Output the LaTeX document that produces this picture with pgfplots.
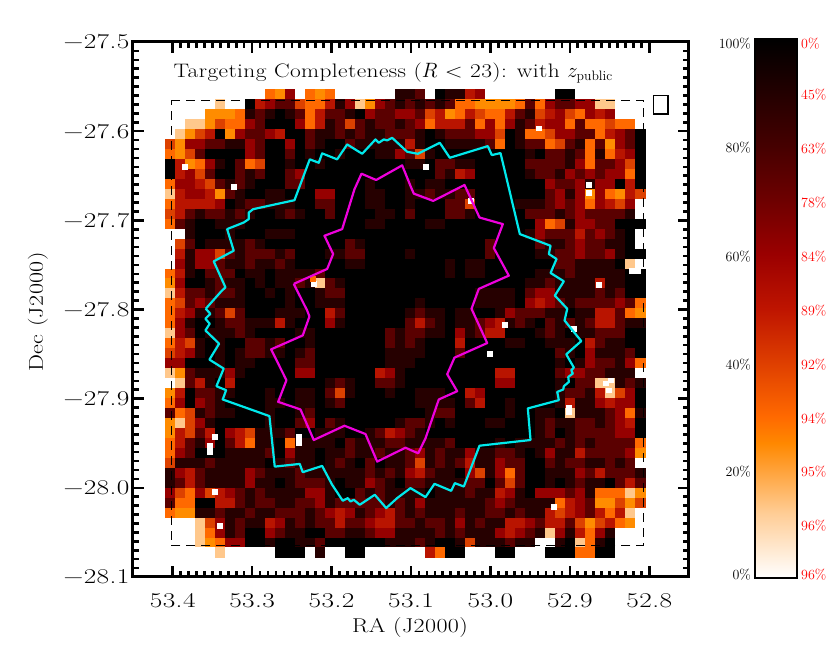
\documentclass[border=0pt]{standalone}
\usepackage{fontspec}
\usepackage{pgfplots}
\usepackage{pgfplotstable}
\pgfplotsset{compat=1.18}
\newfontfamily\wide{Latin Modern Roman}[FakeStretch=1.2,LetterSpace=2]
\newfontfamily\widetick{Latin Modern Roman}[FakeStretch=1.3,LetterSpace=2]
\pgfplotsset{table/px/.style={x expr=53.4-(\thisrow{x}-172.3)/794,y expr=-27.6-(\thisrow{y}-130)/895}}
\pgfplotstableread[header=false]{
0 0 0 0 0 0 0 0 0 0 3 2 6 0 3 2 3 0 0 0 0 0 0 8 8 7 0 9 8 8 5 6 0 0 0 0 0 0 0 9 9 0 0 0 0 0 0 0
0 0 0 0 0 1 0 0 9 5 6 7 7 4 3 3 5 8 6 1 2 6 7 8 7 8 7 8 7 3 3 2 2 2 2 3 7 3 6 7 7 6 6 1 1 0 0 0
0 0 0 0 2 2 2 3 8 7 8 9 8 7 3 5 7 7 8 9 6 7 7 6 6 7 4 5 2 3 5 4 3 3 5 7 8 4 5 6 4 3 6 5 6 0 0 0
0 0 1 1 2 4 3 3 6 7 9 9 9 6 3 5 8 7 4 7 8 7 7 8 7 6 3 5 5 5 7 3 6 3 6 8 7 5 6 6 3 7 3 3 4 3 3 0
0 1 2 4 5 9 2 6 7 7 6 5 9 9 7 8 8 7 8 7 8 8 7 7 7 8 9 8 7 7 7 6 6 4 9 8 3 3 4 6 6 7 7 3 5 6 7 9
4 2 6 6 7 7 8 8 6 7 9 9 6 9 7 8 9 9 7 8 8 8 8 8 5 8 9 9 8 8 8 8 7 3 9 8 7 7 3 4 7 8 3 7 2 6 7 9
3 2 4 7 9 9 9 9 6 7 9 9 7 9 8 9 9 8 9 9 9 8 8 6 7 4 8 9 9 9 9 9 9 9 9 9 8 9 7 7 8 7 3 8 3 5 6 9
9 5 2 3 6 8 9 7 3 4 9 9 8 9 9 8 9 9 9 9 9 9 9 9 8 8 9 7 7 8 8 9 9 9 9 9 7 7 7 7 8 6 3 7 7 6 4 9
9 5 6 4 7 9 9 7 8 7 9 9 7 6 9 9 9 9 9 9 9 9 9 9 9 9 9 7 8 5 6 9 9 9 9 9 8 7 7 8 6 7 6 7 6 6 3 9
3 6 6 5 4 7 8 7 8 9 9 9 7 7 9 9 9 9 9 9 8 9 9 9 8 9 8 8 9 9 9 9 9 9 9 9 9 9 6 7 7 6 8 6 6 9 5 9
1 5 6 6 5 2 7 8 9 9 8 8 9 9 9 6 6 9 9 9 8 8 9 9 8 8 7 8 8 7 7 9 9 9 9 9 9 9 7 6 8 6 2 6 3 2 5 4
3 5 5 5 5 6 9 8 7 7 8 8 8 9 9 7 7 9 9 9 8 8 9 9 8 9 9 9 7 7 4 9 9 9 9 8 8 8 7 6 7 6 3 6 5 4 6 0
4 5 7 8 7 7 8 7 8 9 9 8 7 8 9 9 7 9 9 9 9 8 8 9 7 9 9 9 7 7 8 9 9 9 9 9 7 7 7 8 7 6 7 7 7 7 8 0
3 7 8 9 9 8 8 8 9 9 9 9 9 9 9 9 9 9 9 9 8 8 9 9 9 9 8 8 9 9 9 9 9 9 9 9 9 6 3 4 8 6 6 7 7 9 9 9
0 0 8 9 9 9 8 9 9 9 8 8 8 9 9 9 9 9 9 9 9 9 9 9 9 9 9 9 9 9 9 9 9 9 9 9 8 6 7 7 7 5 7 6 7 8 9 0
0 4 7 9 8 8 8 8 7 8 9 9 9 9 9 9 9 9 7 8 9 9 9 9 9 9 9 9 9 9 9 9 7 9 9 9 9 7 8 8 7 6 7 7 8 8 9 0
0 5 8 6 6 4 7 8 7 7 7 8 7 9 9 9 8 8 7 7 9 9 9 9 8 9 9 9 9 9 9 9 7 9 9 9 9 8 8 7 7 6 7 7 6 8 9 9
0 6 8 6 6 7 8 8 7 8 8 7 8 9 9 9 9 9 8 8 9 9 9 9 9 9 9 9 8 9 8 8 9 9 9 9 9 9 9 7 7 8 8 8 8 9 1 0
3 5 8 9 7 7 7 9 8 8 9 8 8 8 8 7 9 9 9 9 9 9 9 9 9 9 9 9 8 9 8 8 9 9 9 9 9 8 8 8 7 8 8 8 8 8 9 9
2 6 9 9 8 7 8 8 9 8 9 8 8 7 8 1 7 8 9 9 9 9 9 9 9 9 9 9 9 9 9 9 9 9 9 9 8 8 7 8 8 8 8 5 8 8 9 9
1 5 7 7 8 7 7 8 9 9 8 9 8 9 9 8 7 7 9 9 9 9 9 9 9 9 9 9 9 9 9 8 8 8 8 9 7 6 6 8 8 8 8 7 8 7 9 9
3 4 7 6 7 8 8 8 9 9 9 9 8 9 9 8 8 8 9 9 9 9 9 9 9 8 9 9 9 9 9 8 8 8 8 9 6 5 6 7 8 7 7 7 7 6 7 3
3 5 6 8 8 7 4 7 9 9 9 8 8 8 9 9 5 7 9 9 9 9 9 9 8 7 8 8 9 8 8 9 9 8 6 7 7 7 8 8 9 8 8 5 5 7 3 2
3 6 8 9 9 8 7 7 8 8 8 5 8 9 9 9 6 8 9 9 9 9 9 9 7 5 7 8 9 8 8 7 6 5 8 7 8 9 7 8 7 8 7 5 5 7 8 8
1 6 7 9 8 8 8 7 8 9 9 9 9 8 8 9 9 9 9 9 9 9 7 8 7 7 8 8 9 6 8 7 5 5 9 9 9 8 7 8 9 8 8 7 7 7 9 9
3 5 4 8 9 8 9 9 7 7 8 7 9 9 8 9 9 9 9 9 9 9 7 8 7 8 9 9 9 5 9 9 9 9 8 8 9 9 8 8 8 9 5 7 8 8 9 9
4 5 6 8 9 8 9 8 7 7 8 8 9 8 7 9 9 9 9 9 9 9 8 8 8 8 9 9 9 7 9 9 9 9 9 9 9 9 9 7 8 9 6 8 8 8 7 9
6 6 9 9 9 8 9 8 8 9 9 9 9 7 7 9 9 9 9 9 9 9 8 8 8 9 9 9 9 9 9 9 9 9 9 9 9 9 9 8 9 8 6 7 7 8 6 3
1 2 7 8 8 8 6 8 9 9 9 9 9 6 6 9 9 9 9 9 9 5 6 8 9 9 9 9 9 9 9 9 9 5 5 9 9 9 9 7 6 6 7 7 8 8 8 0
0 1 7 5 8 9 5 9 9 9 9 9 9 9 9 9 8 7 8 9 9 7 7 8 9 9 9 9 9 9 9 9 9 6 6 9 9 9 9 8 9 7 7 1 1 8 7 8
2 5 9 7 7 8 8 9 9 9 8 9 9 8 8 9 7 4 8 9 9 9 8 9 9 8 8 8 9 9 5 6 9 9 9 9 9 9 9 8 7 7 8 5 1 4 6 9
3 6 9 6 7 8 9 9 9 9 8 8 9 8 8 9 8 7 9 9 9 9 9 9 9 8 8 8 8 9 7 5 9 9 8 9 9 9 9 8 5 8 8 6 5 6 6 9
7 3 4 8 7 8 8 9 9 9 8 9 9 8 7 9 9 9 9 9 9 9 9 9 9 9 8 7 7 9 9 9 9 9 8 9 9 8 8 9 1 8 8 8 7 6 3 8
2 1 4 6 8 9 9 9 9 9 8 9 9 7 6 9 7 8 9 9 9 9 9 8 7 7 8 9 8 9 9 9 8 8 9 9 9 8 7 8 8 7 7 8 7 6 5 9
2 5 4 7 5 9 6 5 4 8 8 8 7 9 9 8 8 8 9 9 8 7 5 6 7 8 9 9 9 9 9 9 9 9 9 9 9 8 7 9 8 7 7 7 7 6 6 9
3 5 7 8 6 9 7 5 3 8 8 9 3 8 8 8 8 9 7 8 8 8 7 7 8 8 8 8 7 9 9 9 9 8 9 8 8 8 8 7 8 7 8 7 7 7 7 3
3 6 7 9 9 9 8 8 8 8 7 9 6 8 8 9 8 8 7 8 8 7 8 8 7 6 8 7 8 8 6 8 8 7 7 8 9 8 6 8 8 5 7 7 7 7 6 2
4 8 8 8 7 8 8 8 8 8 9 8 7 8 8 9 8 7 8 9 7 9 8 8 7 4 8 7 8 7 5 8 8 6 7 7 9 9 7 8 7 7 8 8 7 8 7 0
8 6 5 7 8 8 8 8 6 7 8 8 8 7 8 8 8 8 8 8 7 8 7 8 6 5 7 8 8 9 6 4 8 6 3 7 9 9 8 8 8 6 7 5 7 7 7 8
8 7 5 7 8 8 8 8 6 8 8 9 8 7 7 7 8 9 8 8 6 7 8 9 7 7 8 8 8 8 7 7 9 7 4 7 9 9 8 9 8 7 8 8 9 7 5 7
6 4 3 6 4 5 6 7 8 7 8 8 8 8 6 6 8 9 9 7 8 7 8 8 8 8 9 8 8 8 7 8 8 5 6 8 9 6 6 6 7 6 8 3 3 3 1 2
7 3 3 9 9 5 5 7 8 7 7 8 8 7 7 6 8 7 7 7 7 7 8 7 8 6 8 8 8 8 8 8 7 6 7 8 8 8 8 3 5 6 7 2 2 4 2 4
3 2 2 8 8 7 8 8 7 8 8 7 7 7 8 7 6 5 6 8 7 6 5 7 8 7 8 8 8 7 8 8 7 7 8 7 8 8 5 4 5 6 7 5 3 5 1 0
0 0 0 1 4 6 8 7 8 8 5 6 8 7 8 7 7 5 7 7 6 5 5 7 7 8 7 7 8 6 8 7 8 8 5 5 6 7 5 5 7 4 2 4 5 3 2 0
0 0 0 1 3 6 8 7 9 9 6 7 8 8 9 9 7 7 8 8 7 6 6 8 8 8 8 7 8 7 8 8 8 6 5 6 7 8 1 6 8 5 3 6 8 0 0 0
0 0 0 1 2 3 6 6 9 9 8 9 9 8 8 7 9 9 9 9 9 9 8 8 8 7 8 9 9 8 4 8 8 8 7 8 8 0 0 8 9 1 3 8 9 0 0 0
0 0 0 0 0 1 0 0 0 0 0 9 9 9 0 8 0 0 9 9 0 0 0 0 0 0 5 3 9 9 0 0 0 9 9 0 0 0 9 9 9 3 3 9 9 0 0 0
}\cells
\pgfplotstableread{
x y c
233 186 0
313 283 0
312 278 3
184 166 0
425 166 0
538 127 0
588 184 0
588 192 0
470 200 0
598 284 0
631 270 0
637 270 0
214 437 0
209 446 0
209 452 0
214 492 0
219 526 0
298 437 0
298 443 0
504 324 0
489 353 0
568 407 0
568 412 0
605 383 0
610 380 0
608 390 0
553 507 0
573 328 0
}\specks
\pgfplotstableread{
x y
205.3 308.3
220 291.7
225 286.7
213.3 260.7
233.3 250
226.7 228.3
243.3 221.7
248.3 218.3
248.3 211.7
252.7 208.3
294 199.3
309.3 158.3
318.3 161.7
321.7 152.3
336.7 158.3
346.7 143.3
361.7 152.7
375 138.3
378.3 141.7
383.3 138.3
386.7 139.3
391.7 136.7
406.7 150.7
417.3 152.7
439.3 141.7
449.3 156.7
487.3 145
491.3 154
500 152
519.3 233.3
550 245
548.3 253.3
556 258.3
550 272.3
563.3 280.7
554.3 295
566.7 308.3
564 320
580.7 340.7
565.7 354
573.3 367.3
570.7 370
572.3 373.3
567.7 376.7
568.3 381.7
563.3 386
562.7 389.3
556.7 391.7
558.3 400
527.3 408.3
530 440
479 445.7
463.3 486.7
454.3 483.3
450.7 491
434 484
425 497.3
410 488.3
396.7 498.3
385.7 508.3
374.3 495
359.3 505
353.3 500
350 501.7
347.3 498.3
342.3 501
331.7 485
321.7 466
302.3 472.3
299.3 464
274.3 466.7
269 416
222.3 399.3
225.7 390
216 386
223.3 368.3
209 359.3
218.7 343.3
205 330
209.3 323.3
205 318.3
210 313.3
205.3 308.3
}\cyanline
\pgfplotstableread{
x y
293.3 283.3
326.7 268.3
332.7 253.3
324 235
341.7 228.3
354 188.3
361 172.7
375.7 179
401.7 164.3
410 185
413.3 192.7
432.7 200
464 184
479 216.7
502.3 223.3
493.3 247.3
508.3 275
478.3 288.3
471 308.3
486.7 342.7
454 357.3
446.7 374
456.7 391
438.3 399.3
425 438.3
417.7 453.3
410 450
405 447.7
376.7 461.7
365 434
344 425.7
313.3 440
300 409.3
277.7 401.7
286 380
270.7 349
302.3 335
309 316
306.7 310
293.3 283.3
}\magentaline
\begin{document}
\begin{tikzpicture}[x=1pt,y=1pt]
\path[use as bounding box] (0,0) rectangle (830,664);
\begin{axis}[
  at={(133pt,87pt)},anchor=south west,scale only axis,width=556pt,height=535pt,
  x dir=reverse,xmin=52.75,xmax=53.45,ymin=-28.1,ymax=-27.5,
  axis on top,clip mode=individual,
  axis line style={line width=3pt},
  xtick={52.8,52.9,53.0,53.1,53.2,53.3,53.4},
  xticklabels={52.8,52.9,53.0,53.1,53.2,53.3,53.4},
  ytick={-28.1,-28.0,-27.9,-27.8,-27.7,-27.6,-27.5},
  yticklabels={−28.1,−28.0,−27.9,−27.8,−27.7,−27.6,−27.5},
  minor tick num=9,
  tick align=inside,
  major tick length=11pt,minor tick length=6pt,
  tick style={black,line width=2.6pt},
  tick label style={font=\fontsize{21}{24}\selectfont\widetick},
  xticklabel style={yshift=-13pt},
  scatter/use mapped color={draw=mapped color,fill=mapped color},
  colormap={cells}{rgb255=(255,255,255) rgb255=(255,200,140) rgb255=(255,140,0) rgb255=(255,105,0) rgb255=(220,65,0) rgb255=(185,20,0) rgb255=(150,0,0) rgb255=(90,0,0) rgb255=(38,0,0) rgb255=(0,0,0)},
  point meta min=0,point meta max=9,
]
\pgfplotsinvokeforeach{0,...,47}{
  \addplot[scatter,only marks,mark=square*,mark size=4.9pt,scatter src=explicit,forget plot]
    table[x expr=53.4-((170+10*#1)-172.3)/794,y expr=-27.6-((93+10*\coordindex)-130)/895,meta index=#1]{\cells};
}
\addplot[scatter,only marks,mark=square*,mark size=2.4pt,scatter src=explicit,forget plot]
  table[px,meta=c]{\specks};
\addplot[color={rgb,255:red,0;green,232;blue,235},line width=2.2pt,no markers,line join=round] table[px]{\cyanline};
\addplot[color={rgb,255:red,238;green,0;blue,220},line width=2.2pt,no markers,line join=round] table[px]{\magentaline};
\addplot[black,line width=1.5pt,no markers,dash pattern=on 9pt off 6pt] table[px]{
x y
171 99
642.7 99
642.7 546
171 546
171 99
};
\addplot[black,line width=1.5pt,no markers] table[px]{
x y
653 94
667.5 94
667.5 113
653 113
653 94
};
\end{axis}
\begin{axis}[
  at={(755pt,86pt)},anchor=south west,scale only axis,width=42pt,height=539pt,
  xmin=0,xmax=1,ymin=0,ymax=100,ticks=none,axis on top,
  axis line style={line width=1.6pt},
  colormap={bar}{color(0)=(white) rgb255(12)=(255,205,150) rgb255(25)=(255,136,0) rgb255(30)=(255,105,0) rgb255(50)=(190,20,0) rgb255(60)=(155,0,0) rgb255(70)=(110,0,0) rgb255(80)=(70,0,0) color(100)=(black)},
]
\addplot[patch,patch type=rectangle,shader=interp,point meta=explicit] coordinates {(0,0)[0] (1,0)[0] (1,100)[100] (0,100)[100]};
\end{axis}
\node[font=\fontsize{19.5}{24}\selectfont\wide,anchor=west] at (170,591) {Targeting Completeness ($R$ < 23): with $z_{\mathrm{public}}$};
\node[font=\fontsize{20}{24}\selectfont\wide] at (410,36) {RA (J2000)};
\node[font=\fontsize{20}{24}\selectfont\wide,rotate=90] at (38,352) {Dec (J2000)};
\begin{scope}[every node/.style={font=\fontsize{14}{16}\selectfont,anchor=east,inner sep=0pt}]
\node at (751,620) {100\%};
\node at (751,516) {80\%};
\node at (751,407) {60\%};
\node at (751,299) {40\%};
\node at (751,192) {20\%};
\node at (751,89) {0\%};
\end{scope}
\begin{scope}[every node/.style={font=\fontsize{14}{16}\selectfont,anchor=west,inner sep=0pt,text=red}]
\node at (801,620) {0\%};
\node at (801,569) {45\%};
\node at (801,515) {63\%};
\node at (801,461) {78\%};
\node at (801,407) {84\%};
\node at (801,353) {89\%};
\node at (801,299) {92\%};
\node at (801,245) {94\%};
\node at (801,192) {95\%};
\node at (801,138) {96\%};
\node at (801,89) {96\%};
\end{scope}
\end{tikzpicture}
\end{document}
